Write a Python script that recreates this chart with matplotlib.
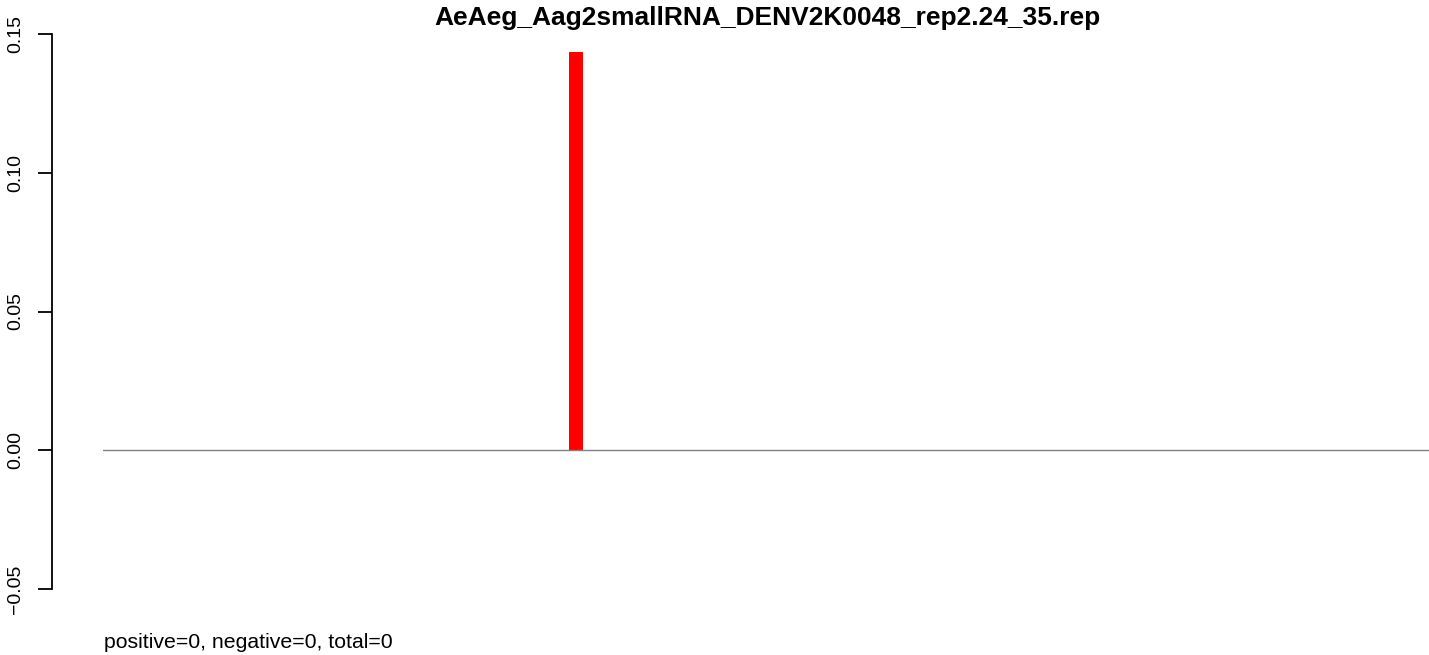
import matplotlib
matplotlib.use('Agg')
import matplotlib.pyplot as plt

plt.rcParams['font.family'] = ['Liberation Sans', 'DejaVu Sans']

title = 'AeAeg_Aag2smallRNA_DENV2K0048_rep2.24_35.rep'
bar_x = [34]
bar_height = [0.1434]
y_ticks = [-0.05, 0.00, 0.05, 0.10, 0.15]
y_labels = ['-0.05', '0.00', '0.05', '0.10', '0.15']
counts = {'positive': 0, 'negative': 0, 'total': 0}

W, H = 1429, 655
fig = plt.figure(figsize=(W / 100, H / 100), dpi=100)
ax = fig.add_axes([103 / W, (H - 589) / H, 1328 / W, 555 / H])

ax.bar(bar_x, bar_height, width=1.0, color='red', edgecolor='none')
ax.axhline(0, color='gray', lw=1)

ax.set_xlim(0.2, 95.06)
ax.set_ylim(-0.05, 0.15)

for s in ['top', 'right', 'bottom']:
    ax.spines[s].set_visible(False)
ax.spines['left'].set_position(('outward', 37))
ax.spines['left'].set_bounds(-0.05, 0.15)
ax.spines['left'].set_linewidth(1.3)
ax.set_xticks([])
ax.set_yticks(y_ticks)
ax.set_yticklabels([l.replace('-', '\u2212') for l in y_labels],
                   rotation=90, va='center', fontsize=14)
ax.tick_params(axis='y', length=10, width=1.3, pad=10)

fig.text(767 / W, 1 - 18 / H, title, ha='center', va='center',
         fontsize=19, fontweight='bold')
summary = ', '.join(f'{k}={v}' for k, v in counts.items())
fig.text(104 / W, 1 - 642 / H, summary, ha='left', va='center', fontsize=15.3)

fig.savefig('out.png', dpi=100)
